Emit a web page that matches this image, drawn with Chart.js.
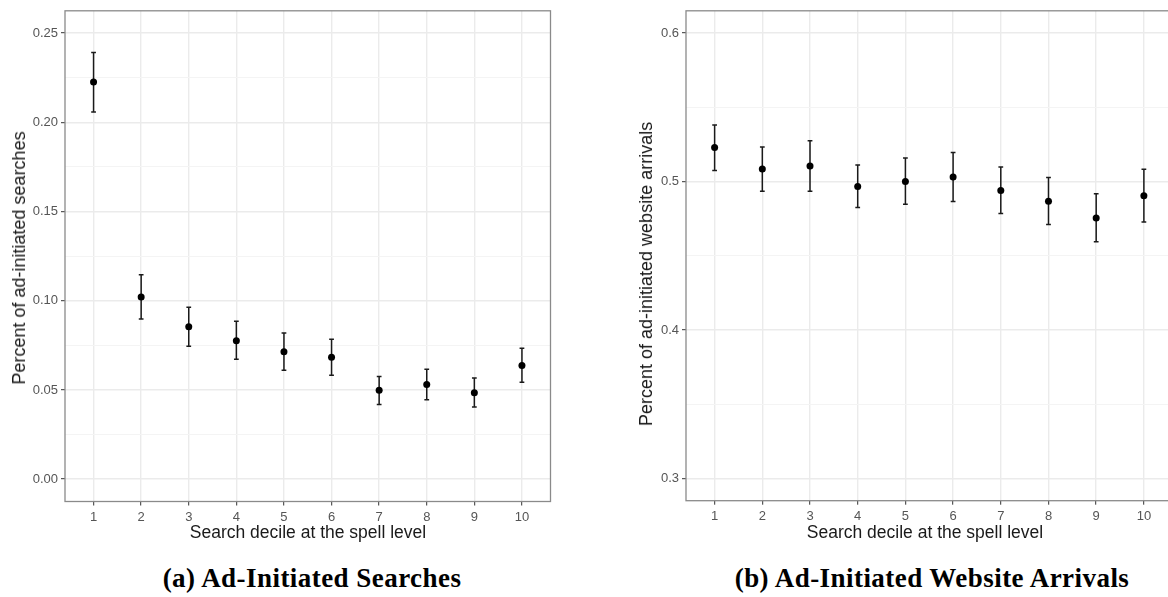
<!DOCTYPE html>
<html><head><meta charset="utf-8">
<script src="https://cdn.jsdelivr.net/npm/chart.js@4.4.1/dist/chart.umd.min.js"></script>
<style>
html,body{margin:0;padding:0;background:#fff;overflow:hidden;width:1168px;height:597px;}
#wrap{position:relative;width:1168px;height:597px;overflow:hidden;}
canvas{position:absolute;top:0;}
.t{position:absolute;white-space:nowrap;font-family:"Liberation Sans",Arial,sans-serif;font-size:17.5px;line-height:17.5px;color:#1a1a1a;transform:translate(-50%,-50%);}
.yt{transform:translate(-50%,-50%) rotate(-90deg);font-size:18px;line-height:18px;}
.cap{position:absolute;white-space:nowrap;font-family:"Liberation Serif","Times New Roman",serif;font-weight:bold;font-size:27px;line-height:27px;letter-spacing:0.45px;color:#000;transform:translateX(-50%);}
</style></head>
<body><div id="wrap">
<canvas id="ca" width="560" height="555" style="left:0px"></canvas>
<canvas id="cb" width="600" height="555" style="left:620px"></canvas>
<div class="t" style="left:308px;top:533px">Search decile at the spell level</div>
<div class="t yt" style="left:18.8px;top:258px">Percent of ad-initiated searches</div>
<div class="t" style="left:925px;top:533px">Search decile at the spell level</div>
<div class="t yt" style="left:645.5px;top:274px">Percent of ad-initiated website arrivals</div>
<div class="cap" style="left:312px;top:565px">(a) Ad-Initiated Searches</div>
<div class="cap" style="left:932px;top:565px">(b) Ad-Initiated Website Arrivals</div>
</div>
<script>
// ---- data ----
const deciles = [1, 2, 3, 4, 5, 6, 7, 8, 9, 10];

const searchMean = [0.2226, 0.1021, 0.0854, 0.0776, 0.0714, 0.0683, 0.0499, 0.0530, 0.0484, 0.0637];
const searchLow  = [0.2058, 0.0898, 0.0745, 0.0672, 0.0611, 0.0582, 0.0418, 0.0445, 0.0405, 0.0543];
const searchHigh = [0.2392, 0.1146, 0.0964, 0.0885, 0.0819, 0.0784, 0.0576, 0.0616, 0.0567, 0.0734];

const arrivalMean = [0.5229, 0.5085, 0.5105, 0.4967, 0.5000, 0.5031, 0.4940, 0.4867, 0.4755, 0.4904];
const arrivalLow  = [0.5075, 0.4935, 0.4935, 0.4825, 0.4847, 0.4865, 0.4785, 0.4711, 0.4595, 0.4727];
const arrivalHigh = [0.5380, 0.5233, 0.5275, 0.5111, 0.5158, 0.5195, 0.5098, 0.5027, 0.4918, 0.5082];

const searchMajorTicks = [0, 0.05, 0.10, 0.15, 0.20, 0.25];
const searchMinorTicks = [0.025, 0.075, 0.125, 0.175, 0.225];
const searchRange = [-0.0125, 0.2625];

const arrivalMajorTicks = [0.3, 0.4, 0.5, 0.6];
const arrivalMinorTicks = [0.35, 0.45, 0.55];
const arrivalRange = [0.285, 0.615];

const xRange = [0.4, 10.6];
const capWidth = 0.1;

// ---- helpers ----
const tickFont = {family: '"Liberation Sans", Arial, sans-serif', size: 13};
const tickColor = '#555555';

const errorBarPlugin = {
  id: 'errorBars',
  beforeDatasetsDraw(chart) {
    const ctx = chart.ctx, xs = chart.scales.x, ys = chart.scales.y;
    chart.data.datasets.forEach(ds => {
      if (!ds.errLow) return;
      ctx.save();
      ctx.strokeStyle = '#1a1a1a';
      ctx.lineWidth = 1.5;
      ds.data.forEach((p, i) => {
        const x = xs.getPixelForValue(p.x);
        const xl = xs.getPixelForValue(p.x - capWidth / 2);
        const xr = xs.getPixelForValue(p.x + capWidth / 2);
        const yl = ys.getPixelForValue(ds.errLow[i]);
        const yh = ys.getPixelForValue(ds.errHigh[i]);
        ctx.beginPath();
        ctx.moveTo(x, yl); ctx.lineTo(x, yh);
        ctx.moveTo(xl, yl); ctx.lineTo(xr, yl);
        ctx.moveTo(xl, yh); ctx.lineTo(xr, yh);
        ctx.stroke();
      });
      ctx.restore();
    });
  },
  afterDraw(chart) {
    const a = chart.chartArea, ctx = chart.ctx;
    ctx.save();
    ctx.strokeStyle = '#8a8a8a';
    ctx.lineWidth = 1.3;
    ctx.strokeRect(a.left, a.top, a.right - a.left, a.bottom - a.top);
    ctx.restore();
  }
};

function makeChart(id, mean, low, high, majors, minors, range, digits, geom) {
  const majorSet = majors.map(v => v.toFixed(4));
  const isMajor = v => majorSet.includes(Number(v).toFixed(4));
  const yTickList = majors.concat(minors).sort((a, b) => a - b);
  return new Chart(document.getElementById(id), {
    type: 'scatter',
    data: {
      datasets: [{
        data: deciles.map((d, i) => ({x: d, y: mean[i]})),
        errLow: low,
        errHigh: high,
        pointRadius: 3.5,
        pointHoverRadius: 3.5,
        pointBackgroundColor: '#000',
        pointBorderColor: '#000',
        pointBorderWidth: 0
      }]
    },
    options: {
      responsive: false,
      devicePixelRatio: 1,
      animation: false,
      events: [],
      layout: {padding: {left: 0, top: geom.top, right: geom.right, bottom: 0}},
      plugins: {legend: {display: false}, tooltip: {enabled: false}},
      scales: {
        x: {
          type: 'linear', min: xRange[0], max: xRange[1],
          afterBuildTicks: s => { s.ticks = deciles.map(v => ({value: v})); },
          afterFit: s => { s.height = geom.xh; },
          ticks: {font: tickFont, color: tickColor, padding: 4, maxRotation: 0,
                  callback: v => String(v)},
          grid: {color: '#EBEBEB', lineWidth: 1.4, tickColor: '#333', tickLength: 4, tickWidth: 1},
          border: {display: false}
        },
        y: {
          type: 'linear', min: range[0], max: range[1],
          afterBuildTicks: s => { s.ticks = yTickList.map(v => ({value: v})); },
          afterFit: s => { s.width = geom.yw; },
          ticks: {font: tickFont, color: tickColor, padding: 3,
                  callback: v => isMajor(v) ? Number(v).toFixed(digits) : ''},
          grid: {
            color: c => (c.tick && isMajor(c.tick.value)) ? '#EBEBEB' : '#F4F4F4',
            lineWidth: c => (c.tick && isMajor(c.tick.value)) ? 1.4 : 1,
            tickColor: c => (c.tick && isMajor(c.tick.value)) ? '#333' : 'rgba(0,0,0,0)',
            tickLength: 4, tickWidth: 1
          },
          border: {display: false}
        }
      }
    },
    plugins: [errorBarPlugin]
  });
}

makeChart('ca', searchMean, searchLow, searchHigh, searchMajorTicks, searchMinorTicks, searchRange, 2,
  {top: 5, right: 9.5, xh: 53.5, yw: 65});
makeChart('cb', arrivalMean, arrivalLow, arrivalHigh, arrivalMajorTicks, arrivalMinorTicks, arrivalRange, 1,
  {top: 7, right: 47.5, xh: 54.3, yw: 66});
</script>
</body></html>
